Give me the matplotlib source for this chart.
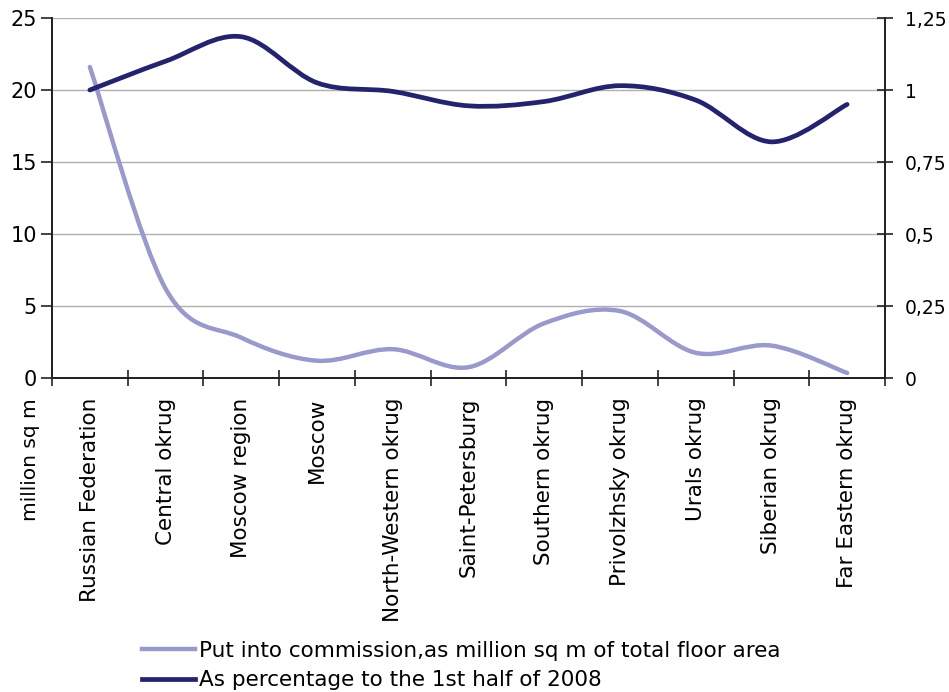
import matplotlib
matplotlib.use("Agg")
import matplotlib.pyplot as plt
from matplotlib.path import Path
from matplotlib.patches import PathPatch
from matplotlib.lines import Line2D
from matplotlib.ticker import FuncFormatter
import numpy as np

regions = ["Russian Federation", "Central okrug", "Moscow region", "Moscow",
           "North-Western okrug", "Saint-Petersburg", "Southern okrug",
           "Privolzhsky okrug", "Urals okrug", "Siberian okrug", "Far Eastern okrug"]
floor_area = [21.6, 6.2, 2.8, 1.2, 2.0, 0.75, 3.8, 4.65, 1.75, 2.25, 0.35]
vs_2008 = [1.0, 1.1, 1.185, 1.025, 0.995, 0.945, 0.96, 1.015, 0.965, 0.82, 0.95]

light = "#9999cc"
dark = "#23236e"

plt.rcParams["font.family"] = "DejaVu Sans"
plt.rcParams["font.size"] = 15.5


def smooth_path(xs, ys):
    # bezier segments with catmull-rom style control points (like office "smoothed line")
    pts = np.column_stack([xs, ys]).astype(float)
    n = len(pts)
    verts = [pts[0]]
    codes = [Path.MOVETO]
    for i in range(n - 1):
        p0 = pts[i - 1] if i > 0 else pts[i]
        p1 = pts[i]
        p2 = pts[i + 1]
        p3 = pts[i + 2] if i + 2 < n else pts[i + 1]
        c1 = p1 + (p2 - p0) / 6.0
        c2 = p2 - (p3 - p1) / 6.0
        verts += [c1, c2, p2]
        codes += [Path.CURVE4] * 3
    return Path(verts, codes)


fig = plt.figure(figsize=(9.49, 6.92), dpi=100)
ax = fig.add_axes([52 / 949, 1 - 378 / 692, 833 / 949, 360 / 692])
ax2 = ax.twinx()

x = np.arange(len(regions))
ax.add_patch(PathPatch(smooth_path(x, floor_area), fill=False, ec=light,
                       lw=3.2, capstyle="round", zorder=3))
ax2.add_patch(PathPatch(smooth_path(x, vs_2008), fill=False, ec=dark,
                        lw=3.4, capstyle="round", zorder=3))

ax.set_xlim(-0.5, len(regions) - 0.5)
ax.set_ylim(0, 25)
ax2.set_ylim(0, 1.25)
ax.set_yticks(np.arange(0, 26, 5))
ax2.set_yticks(np.arange(0, 1.26, 0.25))
ax2.yaxis.set_major_formatter(FuncFormatter(lambda v, p: f"{v:g}".replace(".", ",")))

ax.grid(axis="y", color="#b0b0b0", lw=1)
ax.set_axisbelow(True)

for a in (ax, ax2):
    a.spines["top"].set_visible(False)
    for s in ("left", "right", "bottom"):
        a.spines[s].set_color("#222222")
        a.spines[s].set_linewidth(1.3)

# category labels centred, tick marks between categories
ax.set_xticks(x)
ax.set_xticklabels(regions, rotation=90, va="top", ha="center")
ax.set_xticks(np.arange(-0.5, len(regions), 1), minor=True)
ax.tick_params(axis="x", which="major", length=0, pad=14)
ax.tick_params(axis="x", which="minor", length=12, width=1.2, direction="inout", color="#222222")
ax.tick_params(axis="y", length=8, width=1.2, direction="out", pad=3,
               color="#222222", labelsize=15)
ax2.tick_params(axis="y", length=11, width=1.2, direction="inout", pad=9,
                color="#222222", labelsize=13.5)

fig.text(31 / 949, 1 - 398 / 692, "million sq m", rotation=90, ha="center", va="top",
         fontsize=14.5)

handles = [Line2D([], [], color=light, lw=3.2),
           Line2D([], [], color=dark, lw=3.4)]
fig.legend(handles,
           ["Put into commission,as million sq m of total floor area",
            "As percentage to the 1st half of 2008"],
           loc="upper left", bbox_to_anchor=(142 / 949, 1 - 641 / 692),
           frameon=False, handlelength=2.45, handletextpad=0.2,
           labelspacing=0.42, borderaxespad=0, borderpad=0)

fig.savefig("out.png", dpi=100)
